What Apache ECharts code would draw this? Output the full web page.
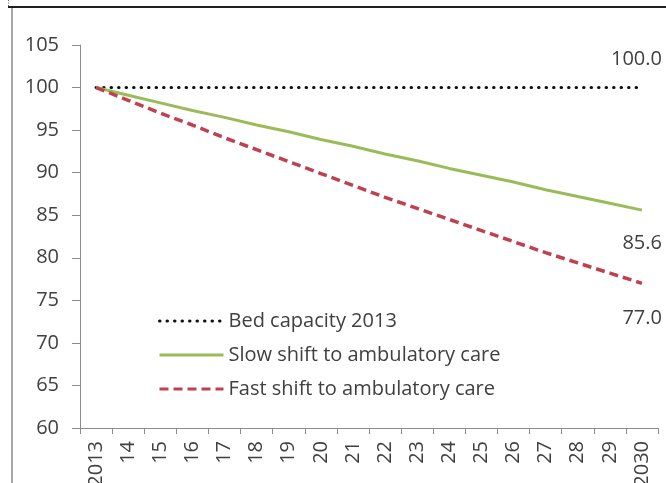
<!DOCTYPE html>
<html>
<head>
<meta charset="utf-8">
<script src="https://cdn.jsdelivr.net/npm/echarts@6/dist/echarts.min.js"></script>
<style>
  html, body { margin: 0; padding: 0; background: #ffffff; }
  #chart { width: 666px; height: 483px; }
</style>
</head>
<body>
<div id="chart"></div>
<script>
// Hospital bed need index, 2013 = 100
const years = ['2013', '14', '15', '16', '17', '18', '19', '20', '21',
               '22', '23', '24', '25', '26', '27', '28', '29', '2030'];
const bedCapacity = [100, 100, 100, 100, 100, 100, 100, 100, 100,
                     100, 100, 100, 100, 100, 100, 100, 100, 100.0];
const slowShift = [100.0, 99.1, 98.2, 97.3, 96.5, 95.6, 94.8, 93.9, 93.1,
                   92.2, 91.4, 90.5, 89.7, 88.9, 88.0, 87.2, 86.4, 85.6];
const fastShift = [100.0, 98.5, 97.0, 95.6, 94.1, 92.7, 91.3, 89.9, 88.5,
                   87.1, 85.8, 84.5, 83.2, 81.9, 80.6, 79.4, 78.2, 77.0];
const yTicks = { min: 60, max: 105, step: 5 };

const FONT = 'Open Sans';
const TEXT = '#404040';
const AXIS = '#8c8c8c';

// Value label at the final year of a series
function endLabel(offset) {
  return {
    show: true,
    distance: 0,
    align: 'right',
    verticalAlign: 'middle',
    offset: offset,
    color: TEXT,
    fontSize: 20,
    fontFamily: FONT,
    formatter: p => Number(p.value).toFixed(1)
  };
}

const chart = echarts.init(document.getElementById('chart'), null, { renderer: 'canvas' });

chart.setOption({
  backgroundColor: '#ffffff',
  animation: false,
  textStyle: { fontFamily: FONT },
  grid: { left: 80, right: 8, top: 45, bottom: 55, containLabel: false, outerBoundsMode: 'none' },
  xAxis: {
    type: 'category',
    data: years,
    boundaryGap: true,
    axisLine: { lineStyle: { color: AXIS, width: 1 } },
    axisTick: { show: true, length: 6, alignWithLabel: false, lineStyle: { color: AXIS } },
    axisLabel: { rotate: 90, interval: 0, margin: 13, color: TEXT, fontSize: 20, fontFamily: FONT },
    splitLine: { show: false }
  },
  yAxis: {
    type: 'value',
    min: yTicks.min,
    max: yTicks.max,
    interval: yTicks.step,
    axisLine: { show: true, lineStyle: { color: AXIS, width: 1 } },
    axisTick: { show: true, length: 8, lineStyle: { color: AXIS } },
    axisLabel: { margin: 21, color: TEXT, fontSize: 20, fontFamily: FONT },
    splitLine: { show: false }
  },
  legend: {
    orient: 'vertical',
    left: 153,
    top: 306,
    padding: 5,
    itemWidth: 64,
    itemHeight: 20,
    itemGap: 14,
    itemStyle: { opacity: 0 },
    lineStyle: { width: 3 },
    textStyle: { color: TEXT, fontSize: 20, fontFamily: FONT },
    data: ['Bed capacity 2013', 'Slow shift to ambulatory care', 'Fast shift to ambulatory care']
  },
  series: [
    {
      name: 'Bed capacity 2013',
      type: 'line',
      data: bedCapacity,
      symbol: 'none',
      lineStyle: { color: '#111111', width: 3, type: [0.5, 7], cap: 'round' },
      itemStyle: { color: '#111111' },
      endLabel: endLabel([20, -28])
    },
    {
      name: 'Slow shift to ambulatory care',
      type: 'line',
      data: slowShift,
      symbol: 'none',
      lineStyle: { color: '#9BBB59', width: 3 },
      itemStyle: { color: '#9BBB59' },
      endLabel: endLabel([20, 33])
    },
    {
      name: 'Fast shift to ambulatory care',
      type: 'line',
      data: fastShift,
      symbol: 'none',
      lineStyle: { color: '#C0404F', width: 3.5, type: [9, 5] },
      itemStyle: { color: '#C0404F' },
      endLabel: endLabel([20, 35])
    }
  ],
  graphic: [
    // frame: dark rule along the top, light rule down the left side
    { type: 'rect', shape: { x: 8, y: 6, width: 660, height: 2 }, style: { fill: '#1f1f1f' }, silent: true },
    { type: 'rect', shape: { x: 11, y: 8, width: 2, height: 480 }, style: { fill: '#a6a6a6' }, silent: true },
    { type: 'line', shape: { x1: 8.5, y1: 0, x2: 8.5, y2: 6 }, style: { stroke: '#777', lineWidth: 1, lineDash: [1, 1.5] }, silent: true }
  ]
});
</script>
</body>
</html>
